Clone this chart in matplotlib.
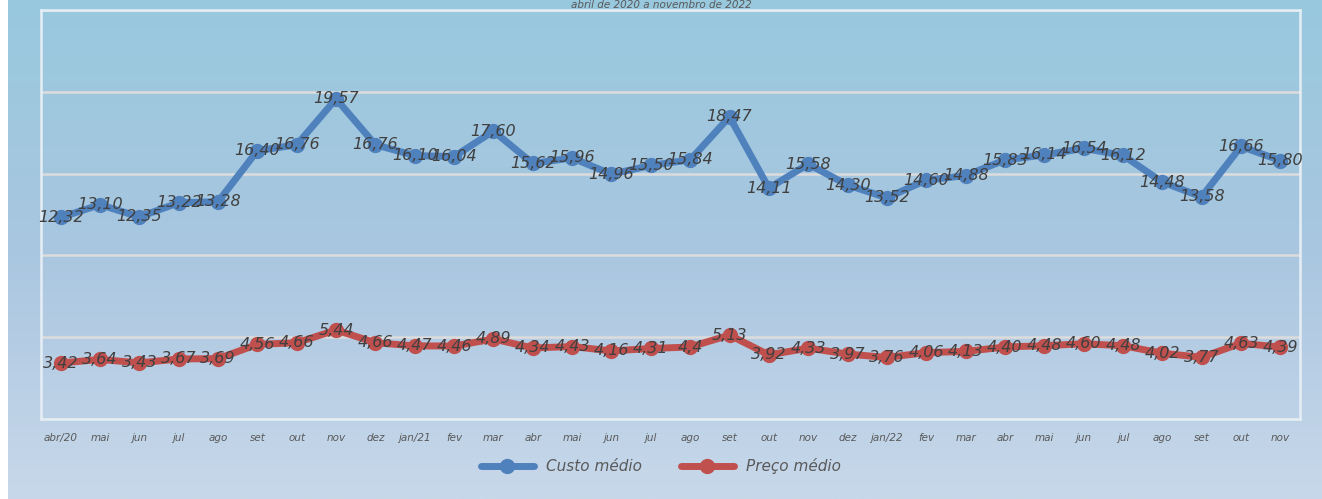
import numpy as np
import matplotlib
matplotlib.use("Agg")
import matplotlib.pyplot as plt
from matplotlib.colors import LinearSegmentedColormap

meses = ["abr/20", "mai", "jun", "jul", "ago", "set", "out", "nov", "dez",
         "jan/21", "fev", "mar", "abr", "mai", "jun", "jul", "ago", "set", "out", "nov", "dez",
         "jan/22", "fev", "mar", "abr", "mai", "jun", "jul", "ago", "set", "out", "nov"]

# valores como aparecem nos rótulos
custo_txt = ["12,32", "13,10", "12,35", "13,22", "13,28", "16,40", "16,76", "19,57", "16,76",
             "16,10", "16,04", "17,60", "15,62", "15,96", "14,96", "15,50", "15,84", "18,47",
             "14,11", "15,58", "14,30", "13,52", "14,60", "14,88", "15,83", "16,14", "16,54",
             "16,12", "14,48", "13,58", "16,66", "15,80"]
preco_txt = ["3,42", "3,64", "3,43", "3,67", "3,69", "4,56", "4,66", "5,44", "4,66",
             "4,47", "4,46", "4,89", "4,34", "4,43", "4,16", "4,31", "4,4", "5,13",
             "3,92", "4,33", "3,97", "3,76", "4,06", "4,13", "4,40", "4,48", "4,60",
             "4,48", "4,02", "3,77", "4,63", "4,39"]

custo = [float(s.replace(",", ".")) for s in custo_txt]
preco = [float(s.replace(",", ".")) for s in preco_txt]

W, H = 1322, 499
fig = plt.figure(figsize=(W / 100, H / 100), dpi=100)
fig.patch.set_facecolor("white")

# fundo em degradê
bg = fig.add_axes([8 / W, 0, 1 - 8 / W, 1], zorder=0)
grad = np.linspace(0, 1, 256).reshape(-1, 1)
cmap = LinearSegmentedColormap.from_list("bg", ["#98C9DE", "#A9C6E0", "#C8D8EA"])
bg.imshow(grad, aspect="auto", cmap=cmap, extent=[0, 1, 0, 1], origin="upper")
bg.axis("off")

ax = fig.add_axes([41 / W, 80 / H, (1300 - 41) / W, (419 - 10) / H], zorder=1)
ax.patch.set_alpha(0)

x = np.arange(len(meses))
azul = "#4F81BD"
verm = "#C0504D"
ax.plot(x, custo, color=azul, lw=5, marker="o", ms=10, solid_capstyle="round",
        label="Custo médio", zorder=3)
ax.plot(x, preco, color=verm, lw=5, marker="o", ms=10, solid_capstyle="round",
        label="Preço médio", zorder=3)

for xi, v, t in zip(x, custo, custo_txt):
    ax.text(xi, v, t, ha="center", va="center", fontsize=11.5, style="italic",
            color="#404040", zorder=4)
for xi, v, t in zip(x, preco, preco_txt):
    ax.text(xi, v, t, ha="center", va="center", fontsize=11.5, style="italic",
            color="#404040", zorder=4)

ax.set_xlim(-0.5, len(meses) - 0.5)
ax.set_ylim(0, 25)
ax.set_yticks([0, 5, 10, 15, 20, 25])
ax.yaxis.grid(True, color="#DCDCDC", lw=1.8)
ax.set_axisbelow(True)
ax.tick_params(axis="y", left=False, labelleft=False)
ax.tick_params(axis="x", length=0, pad=10)
ax.set_xticks(x)
ax.set_xticklabels(meses, fontsize=7.5, style="italic", color="#595959")
for s in ax.spines.values():
    s.set_color("#E6EEF5")
    s.set_linewidth(1.8)

fig.text(0.5, 1 - 0.5 / H, "abril de 2020 a novembro de 2022", ha="center", va="top",
         fontsize=7.5, style="italic", color="#595959", zorder=5)

leg = fig.legend(loc="center", bbox_to_anchor=(0.5, 1 - 466 / H), ncol=2, frameon=False,
                 prop={"size": 11, "style": "italic"}, handlelength=3.5, columnspacing=2.5,
                 labelcolor="#595959")

fig.savefig("out.png", dpi=100)
